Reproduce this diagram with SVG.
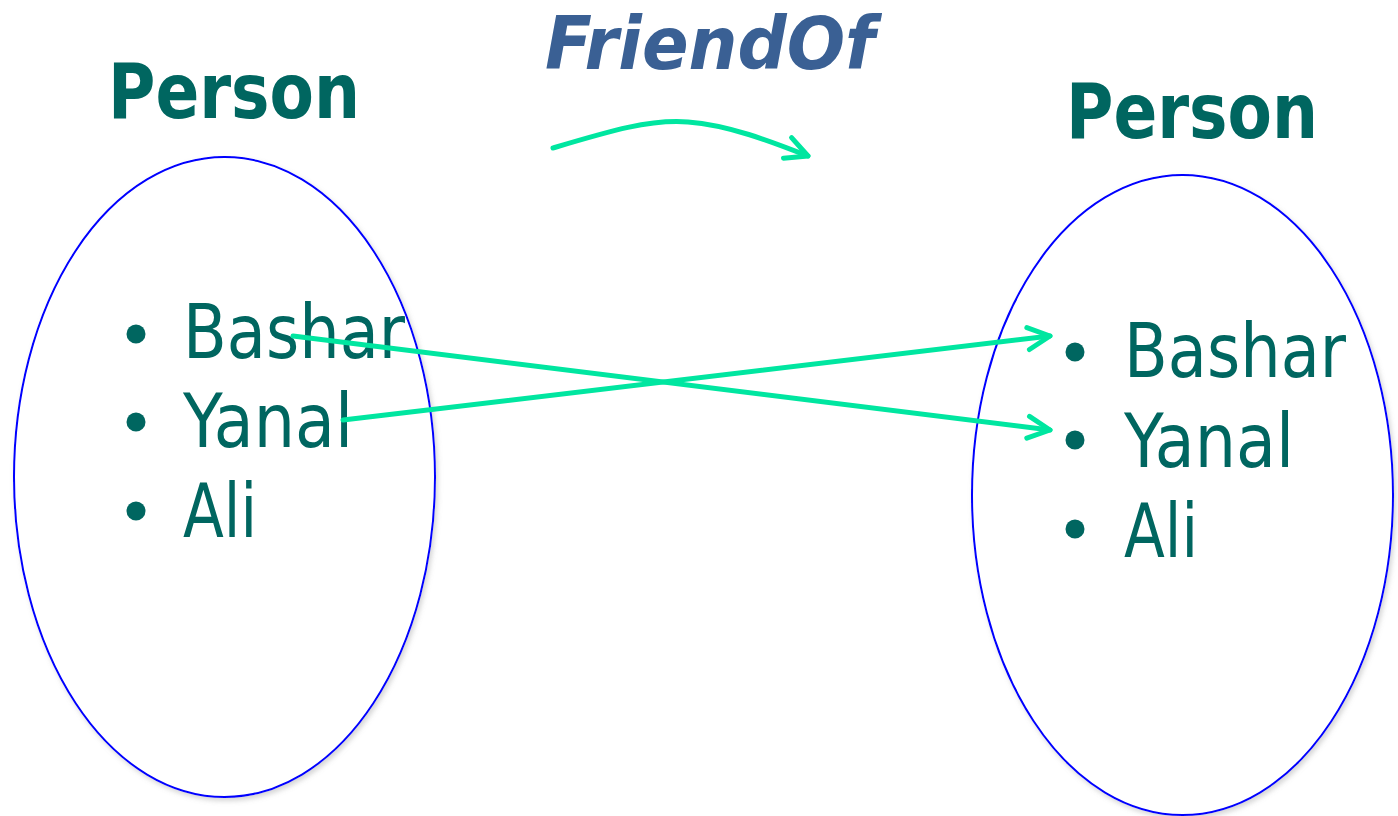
<svg xmlns="http://www.w3.org/2000/svg" width="1398" height="816" viewBox="0 0 1398 816">
  <style>
    .set { fill: #ffffff; stroke: #0000ff; stroke-width: 2; filter: url(#shadow); }
    .title { font-family: "DejaVu Sans", Verdana, sans-serif; font-weight: bold; font-size: 76px; fill: #006660; }
    .rel { font-family: "DejaVu Sans", Verdana, sans-serif; font-weight: bold; font-style: italic; font-size: 73px; fill: #3a6094; }
    .item { font-family: "DejaVu Sans", Verdana, sans-serif; font-size: 74px; fill: #006660; }
    .dot { fill: #006660; }
    .link { fill: none; stroke: #00e6a0; stroke-width: 5; stroke-linecap: round; }
  </style>
  <defs>
    <filter id="shadow" x="-10%" y="-10%" width="120%" height="120%">
      <feDropShadow dx="2" dy="3" stdDeviation="2.5" flood-color="#888888" flood-opacity="0.35"/>
    </filter>
    <marker id="open" markerUnits="userSpaceOnUse" markerWidth="30" markerHeight="30" viewBox="-26 -15 30 30" refX="0" refY="0" orient="auto">
      <path d="M-22,-11 L0,0 L-22,11" fill="none" stroke="#00e6a0" stroke-width="5" stroke-linecap="round" stroke-linejoin="round"/>
    </marker>
  </defs>

  <!-- left set -->
  <g id="person-left">
    <ellipse class="set" cx="224.5" cy="477" rx="210.5" ry="320"/>
    <text class="title" x="108" y="118" textLength="252" lengthAdjust="spacingAndGlyphs">Person</text>
    <circle class="dot" cx="136" cy="334" r="9.5"/>
    <circle class="dot" cx="136" cy="422" r="9.5"/>
    <circle class="dot" cx="136" cy="511" r="9.5"/>
    <text class="item" x="183" y="358" textLength="222" lengthAdjust="spacingAndGlyphs">Bashar</text>
    <text class="item" x="183" y="447" textLength="170" lengthAdjust="spacingAndGlyphs">Yanal</text>
    <text class="item" x="183" y="537" textLength="74" lengthAdjust="spacingAndGlyphs">Ali</text>
  </g>

  <!-- right set -->
  <g id="person-right">
    <ellipse class="set" cx="1182.5" cy="495" rx="210.5" ry="320"/>
    <text class="title" x="1066" y="138" textLength="252" lengthAdjust="spacingAndGlyphs">Person</text>
    <circle class="dot" cx="1075" cy="352" r="9.5"/>
    <circle class="dot" cx="1075" cy="440" r="9.5"/>
    <circle class="dot" cx="1075" cy="529" r="9.5"/>
    <text class="item" x="1124" y="377" textLength="222" lengthAdjust="spacingAndGlyphs">Bashar</text>
    <text class="item" x="1124" y="467" textLength="170" lengthAdjust="spacingAndGlyphs">Yanal</text>
    <text class="item" x="1124" y="557" textLength="74" lengthAdjust="spacingAndGlyphs">Ali</text>
  </g>

  <!-- relation name -->
  <g id="friendof">
    <text class="rel" x="545" y="69" textLength="330" lengthAdjust="spacingAndGlyphs">FriendOf</text>
  </g>

  <!-- connectors -->
  <g id="connectors">
    <path class="link" d="M553,148 C610,131 650,119 688,122 C728,125 770,141 808,156" marker-end="url(#open)"/>
    <path class="link" d="M293,336 L1050,430" marker-end="url(#open)"/>
    <path class="link" d="M343,420 L1050,336" marker-end="url(#open)"/>
  </g>
</svg>
